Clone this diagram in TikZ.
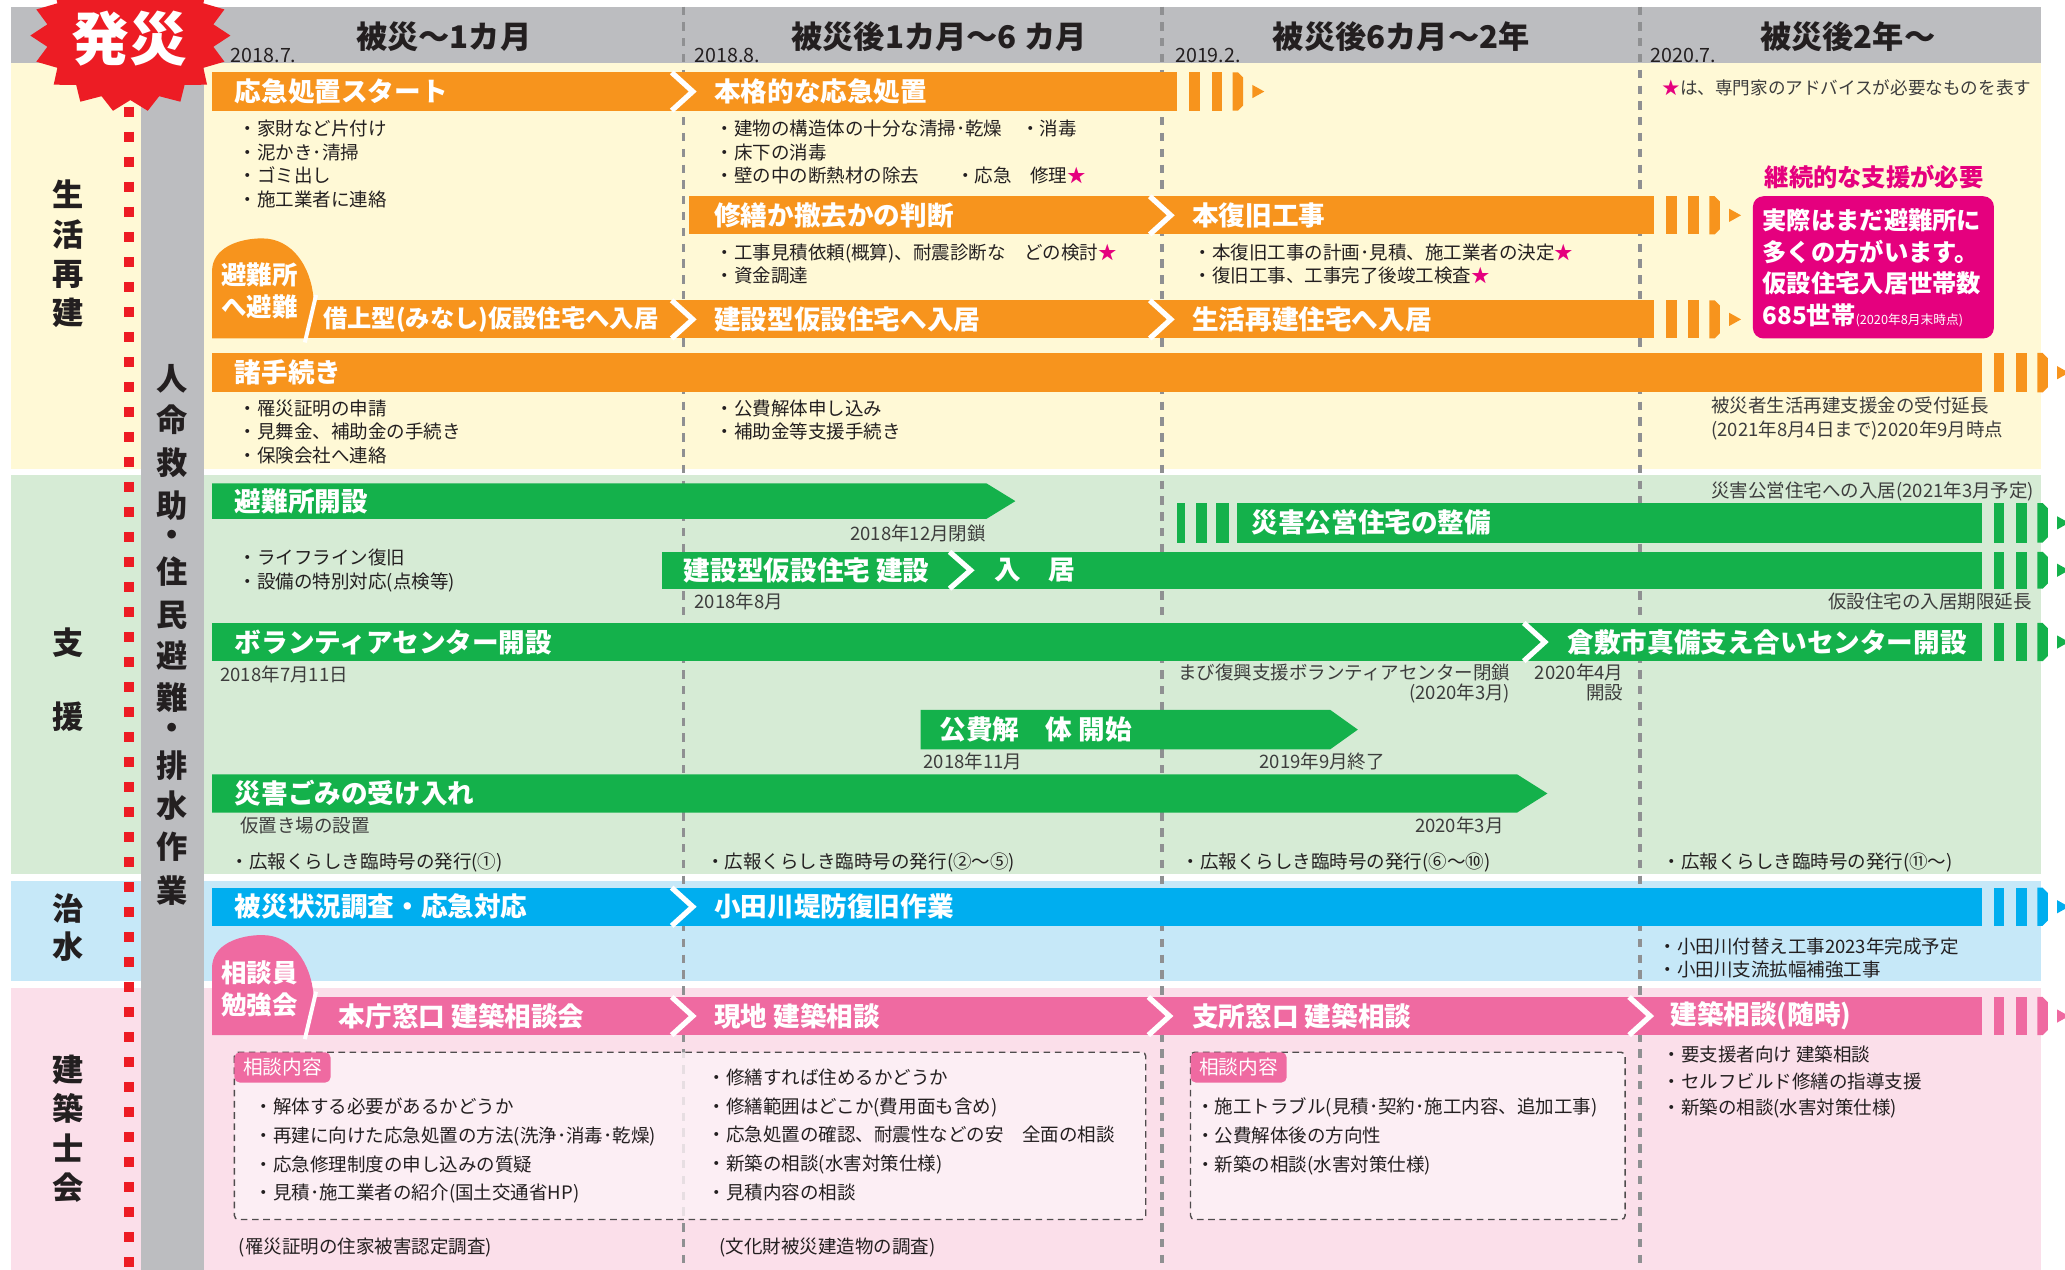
\documentclass[tikz,border=0pt]{standalone}
\usepackage{fontspec}
\setmainfont{Noto Sans CJK JP}
\usepackage{tikz}

\definecolor{hdrgray}{HTML}{BCBDC0}
\definecolor{bandyel}{HTML}{FFF9D6}
\definecolor{bandgrn}{HTML}{D6EBD5}
\definecolor{bandblu}{HTML}{C6E8F8}
\definecolor{bandpnk}{HTML}{FBDFEA}
\definecolor{barorng}{HTML}{F7941D}
\definecolor{bargrn}{HTML}{14B14B}
\definecolor{barblu}{HTML}{00AEEF}
\definecolor{barpnk}{HTML}{EF6AA1}
\definecolor{mgnt}{HTML}{E5007E}
\definecolor{burstred}{HTML}{ED1C24}
\definecolor{divgray}{HTML}{8F9092}
\definecolor{inkdark}{HTML}{231F20}
\definecolor{notegray}{HTML}{3D3D3D}
\definecolor{boxpnk}{HTML}{FDF2F7}

% stripes and small tip after the end of a bar: end x, top y, bottom y, colour
\newcommand{\contbar}[4]{%
  \fill[#4] ({#1+9},#2) rectangle ({#1+17},#3);
  \fill[#4] ({#1+26},#2) rectangle ({#1+34},#3);
  \fill[#4] ({#1+42},#2) -- ({#1+46},#2) -- ({#1+50},{#2+4}) -- ({#1+50},{#3-4}) -- ({#1+46},#3) -- ({#1+42},#3) -- cycle;
  \fill[#4] ({#1+57},{(#2+#3)/2-5}) -- ({#1+66},{(#2+#3)/2}) -- ({#1+57},{(#2+#3)/2+5}) -- cycle;
}
\newcommand{\strk}{{\color{mgnt}★}}

\begin{document}
\begin{tikzpicture}[
    x=0.02cm, y=-0.02cm,
    hdr/.style={font=\fontsize{13.5}{14}\selectfont\bfseries, text=inkdark, inner sep=0pt},
    hdate/.style={font=\fontsize{8.5}{9}\selectfont, text=inkdark, anchor=west, inner sep=0pt},
    cat/.style={font=\fontsize{13.5}{17}\selectfont\bfseries, text=inkdark, align=center, inner sep=0pt},
    colchar/.style={font=\fontsize{13.5}{14}\selectfont\bfseries, text=inkdark, inner sep=0pt},
    barlbl/.style={font=\fontsize{11.5}{12}\selectfont\bfseries, text=white, anchor=west, inner sep=0pt},
    bloblbl/.style={font=\fontsize{11}{12}\selectfont\bfseries, text=white, inner sep=0pt},
    bul/.style={font=\fontsize{8}{10.3}\selectfont, text=inkdark, anchor=north west, align=left, inner sep=0pt},
    note/.style={font=\fontsize{8}{8.5}\selectfont, text=notegray, inner sep=0pt},
    chev/.style={draw=white, line width=0.08cm, line join=miter},
    divline/.style={divgray, line width=0.06cm, dash pattern=on 0.126cm off 0.114cm},
    dbox/.style={draw=inkdark!80, line width=0.6pt, dash pattern=on 0.1cm off 0.07cm, fill=boxpnk, fill opacity=0.8, rounded corners=0.06cm},
    tagbox/.style={fill=barpnk, rounded corners=0.08cm},
    taglbl/.style={font=\fontsize{8.5}{9}\selectfont, text=white, inner sep=0pt}
  ]
    \clip (0,0) rectangle (1568,964);

    % Bands
    \fill[bandyel] (8,48) rectangle (1550,356);
    \fill[bandgrn] (8,361) rectangle (1550,664);
    \fill[bandblu] (8,669) rectangle (1550,745);
    \fill[bandpnk] (8,750) rectangle (1550,964);
    \fill[hdrgray] (8,5) rectangle (1550,48);
    \fill[hdrgray] (107,48) rectangle (155,964);

    % Period dividers
    \foreach \xx in {519, 882, 1245}
      \draw[divline] (\xx,5) -- (\xx,964);
    \draw[burstred, line width=0.16cm, dash pattern=on 0.152cm off 0.228cm] (98,62) -- (98,964);

    % Header
    \node[hdr] (per1) at (337,28) {被災〜1カ月};
    \node[hdr] (per2) at (713,28) {被災後1カ月〜6\ カ月};
    \node[hdr] (per3) at (1064,28) {被災後6カ月〜2年};
    \node[hdr] (per4) at (1403,28) {被災後2年〜};
    \node[hdate] (d1) at (175,42) {2018.7.};
    \node[hdate] (d2) at (527,42) {2018.8.};
    \node[hdate] (d3) at (892,42) {2019.2.};
    \node[hdate] (d4) at (1253,42) {2020.7.};

    % Left labels
    \node[cat] (catlife) at (52,193) {生\\活\\再\\建};
    \node[cat, font=\fontsize{13.5}{32}\selectfont\bfseries] (catsup) at (52,516) {支\\援};
    \node[cat, font=\fontsize{13.5}{16.5}\selectfont\bfseries] (catwat) at (52,704.5) {治\\水};
    \node[cat] (catarc) at (52,857) {建\\築\\士\\会};
    \foreach \ch/\yy [count=\i] in {人/288, 命/319, 救/351, 助/384, ・/409, 住/434, 民/467, 避/498, 難/530, ・/555.5, 排/581, 水/612, 作/643, 業/676}
      \node[colchar] (rescue\i) at (131,\yy) {\ch};

    % ---- 生活再建 ----
    \fill[barorng] (161,55) rectangle (894,84);
    \draw[chev] (510,55) -- (526,69.5) -- (510,84);
    \contbar{894}{55}{84}{barorng}
    \node[barlbl] (a1) at (178,69.5) {応急処置スタート};
    \node[barlbl] (a2) at (542,69.5) {本格的な応急処置};
    \node[bul] (a1list) at (181,90.5) {・家財など片付け\\・泥かき･清掃\\・ゴミ出し\\・施工業者に連絡};
    \node[bul] (a2list) at (543,90.5) {・建物の構造体の十分な清掃･乾燥　・消毒\\・床下の消毒\\・壁の中の断熱材の除去　　・応急　修理\strk};

    \fill[barorng] (523,149) rectangle (1256,178);
    \draw[chev] (873,149) -- (889,163.5) -- (873,178);
    \contbar{1256}{149}{178}{barorng}
    \node[barlbl] (b1) at (542,163.5) {修繕か撤去かの判断};
    \node[barlbl] (b2) at (905,163.5) {本復旧工事};
    \node[bul] (b1list) at (543,184.5) {・工事見積依頼(概算)、耐震診断な　どの検討\strk\\・資金調達};
    \node[bul] (b2list) at (906,184.5) {・本復旧工事の計画･見積、施工業者の決定\strk\\・復旧工事、工事完了後竣工検査\strk};

    \fill[barorng] (230,228) rectangle (1256,257);
    \fill[barorng] (161,257) -- (161,206) to[out=90,in=180] (199,181) to[out=0,in=95] (238,226) -- (232,257) -- cycle;
    \draw[white, line width=0.06cm] (240,224) -- (231.5,260);
    \draw[chev] (510,228) -- (526,242.5) -- (510,257);
    \draw[chev] (873,228) -- (889,242.5) -- (873,257);
    \contbar{1256}{228}{257}{barorng}
    \node[bloblbl] (shelter1) at (197,209) {避難所};
    \node[bloblbl] (shelter2) at (197,233) {へ避難};
    \node[barlbl, font=\fontsize{10.5}{11}\selectfont\bfseries] (c1) at (245,242.5) {借上型(みなし)仮設住宅へ入居};
    \node[barlbl] (c2) at (542,242.5) {建設型仮設住宅へ入居};
    \node[barlbl] (c3) at (905,242.5) {生活再建住宅へ入居};

    \fill[barorng] (161,268) rectangle (1505,298);
    \contbar{1505}{268}{298}{barorng}
    \node[barlbl] (p1) at (178,283) {諸手続き};
    \node[bul] (p1list) at (181,303) {・罹災証明の申請\\・見舞金、補助金の手続き\\・保険会社へ連絡};
    \node[bul] (p2list) at (543,303) {・公費解体申し込み\\・補助金等支援手続き};
    \node[note, anchor=north west, align=left, font=\fontsize{8}{10.2}\selectfont] (p4note) at (1299,301) {被災者生活再建支援金の受付延長\\(2021年8月4日まで)2020年9月時点};

    \node[note, anchor=west, font=\fontsize{7.6}{8}\selectfont] (starnote) at (1262,67) {\strk は、専門家のアドバイスが必要なものを表す};
    \node[text=mgnt, font=\fontsize{10.5}{11}\selectfont\bfseries, inner sep=0pt] (need) at (1423,134.5) {継続的な支援が必要};
    \fill[mgnt, rounded corners=0.16cm] (1331,149) rectangle (1514,257);
    \node[anchor=north west, align=left, text=white, font=\fontsize{10.5}{13.7}\selectfont\bfseries, inner sep=0pt] (stillmsg) at (1338,158) {実際はまだ避難所に\\多くの方がいます。\\仮設住宅入居世帯数\\685世帯{\fontsize{5.5}{6}\selectfont\mdseries (2020年8月末時点)}};

    % ---- 支援 ----
    \fill[bargrn] (161,367) -- (749,367) -- (771,380.5) -- (749,394) -- (161,394) -- cycle;
    \node[barlbl] (g1) at (178,380.5) {避難所開設};
    \node[note, anchor=east] (g1end) at (749,405) {2018年12月閉鎖};
    \node[bul] (g1list) at (181,416.5) {・ライフライン復旧\\・設備の特別対応(点検等)};

    \fill[bargrn] (894,382) rectangle (899.5,412);
    \fill[bargrn] (908,382) rectangle (916.5,412);
    \fill[bargrn] (923,382) rectangle (933,412);
    \fill[bargrn] (939,382) rectangle (1505,412);
    \contbar{1505}{382}{412}{bargrn}
    \node[barlbl] (g2) at (950,397) {災害公営住宅の整備};
    \node[note, anchor=west] (g2note) at (1299,373.5) {災害公営住宅への入居(2021年3月予定)};

    \fill[bargrn] (503,419) rectangle (1505,447);
    \draw[chev] (721,419) -- (737,433) -- (721,447);
    \contbar{1505}{419}{447}{bargrn}
    \node[barlbl] (g3a) at (519,433) {建設型仮設住宅 建設};
    \node[barlbl] (g3b) at (755,433) {入　居};
    \node[note, anchor=west] (g3start) at (527,457) {2018年8月};
    \node[note, anchor=east] (g3note) at (1543,457) {仮設住宅の入居期限延長};

    \fill[bargrn] (161,473) rectangle (1505,502);
    \draw[chev] (1157,473) -- (1173,487.5) -- (1157,502);
    \contbar{1505}{473}{502}{bargrn}
    \node[barlbl] (g4a) at (178,487.5) {ボランティアセンター開設};
    \node[barlbl] (g4b) at (1190,487.5) {倉敷市真備支え合いセンター開設};
    \node[note, anchor=west] (g4start) at (167,512) {2018年7月11日};
    \node[note, anchor=north east, align=right] (g4end) at (1147,504) {まび復興支援ボランティアセンター閉鎖\\(2020年3月)};
    \node[note, anchor=north east, align=right] (g4open) at (1233,504) {2020年4月\\開設};

    \fill[bargrn] (699,539) -- (1010,539) -- (1031,554) -- (1010,569) -- (699,569) -- cycle;
    \node[barlbl] (g5) at (713,554) {公費解　体 開始};
    \node[note, anchor=west] (g5start) at (701,578) {2018年11月};
    \node[note, anchor=east] (g5end) at (1052,578) {2019年9月終了};

    \fill[bargrn] (161,588) -- (1152,588) -- (1175,602.5) -- (1152,617) -- (161,617) -- cycle;
    \node[barlbl] (g6) at (178,602.5) {災害ごみの受け入れ};
    \node[note, anchor=west] (g6start) at (182,627) {仮置き場の設置};
    \node[note, anchor=east] (g6end) at (1142,627) {2020年3月};

    \node[bul] (news1) at (175,647.5) {・広報くらしき臨時号の発行(①)};
    \node[bul] (news2) at (536,647.5) {・広報くらしき臨時号の発行(②〜⑤)};
    \node[bul] (news3) at (897,647.5) {・広報くらしき臨時号の発行(⑥〜⑩)};
    \node[bul] (news4) at (1262,647.5) {・広報くらしき臨時号の発行(⑪〜)};

    % ---- 治水 ----
    \fill[barblu] (161,674) rectangle (1505,703);
    \draw[chev] (510,674) -- (526,688.5) -- (510,703);
    \contbar{1505}{674}{703}{barblu}
    \node[barlbl] (w1) at (178,688.5) {被災状況調査・応急対応};
    \node[barlbl] (w2) at (542,688.5) {小田川堤防復旧作業};
    \node[bul] (w4list) at (1259,711.5) {・小田川付替え工事2023年完成予定\\・小田川支流拡幅補強工事};

    % ---- 建築士会 ----
    \fill[barpnk] (230,757) rectangle (1505,786);
    \fill[barpnk] (161,786) -- (161,735) to[out=90,in=180] (199,710) to[out=0,in=95] (238,755) -- (232,786) -- cycle;
    \draw[white, line width=0.06cm] (240,753) -- (231.5,789);
    \foreach \cx in {510, 872, 1237}
      \draw[chev] (\cx,757) -- ({\cx+16},771.5) -- (\cx,786);
    \contbar{1505}{757}{786}{barpnk}
    \node[bloblbl] (study1) at (197,739) {相談員};
    \node[bloblbl] (study2) at (197,763) {勉強会};
    \node[barlbl] (k1) at (257,771.5) {本庁窓口 建築相談会};
    \node[barlbl] (k2) at (542,771.5) {現地 建築相談};
    \node[barlbl] (k3) at (905,771.5) {支所窓口 建築相談};
    \node[barlbl] (k4) at (1268,771.5) {建築相談(随時)};

    \draw[dbox] (178,799) rectangle (870,926);
    \draw[dbox] (904,799) rectangle (1234,926);
    \fill[tagbox] (178,799) rectangle (251,822);
    \fill[tagbox] (904,799) rectangle (977,822);
    \node[taglbl] (tag1) at (214.5,810.5) {相談内容};
    \node[taglbl] (tag2) at (940.5,810.5) {相談内容};
    \node[bul, font=\fontsize{8}{12.5}\selectfont] (k1list) at (193,833) {・解体する必要があるかどうか\\・再建に向けた応急処置の方法(洗浄･消毒･乾燥)\\・応急修理制度の申し込みの質疑\\・見積･施工業者の紹介(国土交通省HP)};
    \node[bul, font=\fontsize{8}{12.5}\selectfont] (k2list) at (537,811) {・修繕すれば住めるかどうか\\・修繕範囲はどこか(費用面も含め)\\・応急処置の確認、耐震性などの安　全面の相談\\・新築の相談(水害対策仕様)\\・見積内容の相談};
    \node[bul, font=\fontsize{8}{12.5}\selectfont] (k3list) at (908,833) {・施工トラブル(見積･契約･施工内容、追加工事)\\・公費解体後の方向性\\・新築の相談(水害対策仕様)};
    \node[bul, font=\fontsize{8}{11.4}\selectfont] (k4list) at (1262,794) {・要支援者向け 建築相談\\・セルフビルド修繕の指導支援\\・新築の相談(水害対策仕様)};
    \node[bul] (k1foot) at (181,939.5) {(罹災証明の住家被害認定調査)};
    \node[bul] (k2foot) at (546,939.5) {(文化財被災建造物の調査)};

    % Disaster mark
    \fill[burstred] plot[samples at={0,10,...,350}, variable=\a] ({99+(76-12*mod(\a/10,2))*cos(\a)},{27+(58-9*mod(\a/10,2))*sin(\a)}) -- cycle;
    \node[text=white, font=\fontsize{25}{26}\selectfont\bfseries, inner sep=0pt] (hassai) at (98,29) {発災};
  \end{tikzpicture}
\end{document}
